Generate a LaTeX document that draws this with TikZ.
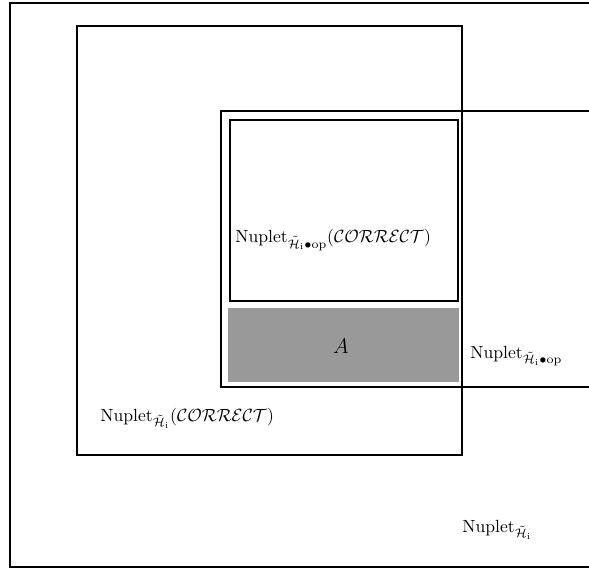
\documentclass[tikz,border=0pt]{standalone}
\usepackage{amsmath,amssymb}
\usepackage{tikz}
\usetikzlibrary{positioning}

\tikzset{
    setbox/.style={line width=1.15pt},
    opbox/.style={line width=1.6pt},
    label/.style={anchor=west, inner sep=0pt},
}
\newcommand{\Htil}{\tilde{\mathcal{H}}_{\mathrm{i}}}

\begin{document}
\begin{tikzpicture}[x=0.567pt, y=-0.567pt]
    \clip (0,0) rectangle (589,572);
    \useasboundingbox (0,0) rectangle (589,572);

    % universe
    \draw[setbox] (10,3) rectangle (620,567);
    \node[label] (univ) at (462,530) {$\mathrm{Nuplet}_{\Htil}$};

    % correct tuples
    \draw[setbox] (77,26) rectangle (462,455);
    \node[label] (corr) at (100,418) {$\mathrm{Nuplet}_{\Htil}(\mathcal{CORRECT})$};

    % tuples with op
    \draw[opbox] (221,111) rectangle (620,387);
    \node[label] (op) at (470,356) {$\mathrm{Nuplet}_{\Htil\bullet\mathrm{op}}$};

    % correct tuples with op
    \draw[opbox] (230,120) rectangle (458,301);
    \node[label] (opcorr) at (235,240) {$\mathrm{Nuplet}_{\Htil\bullet\mathrm{op}}(\mathcal{CORRECT})$};

    % region A
    \fill[black!40] (228,308) rectangle (459,382);
    \node[font=\large] (regA) at (341,346) {$A$};
\end{tikzpicture}
\end{document}
